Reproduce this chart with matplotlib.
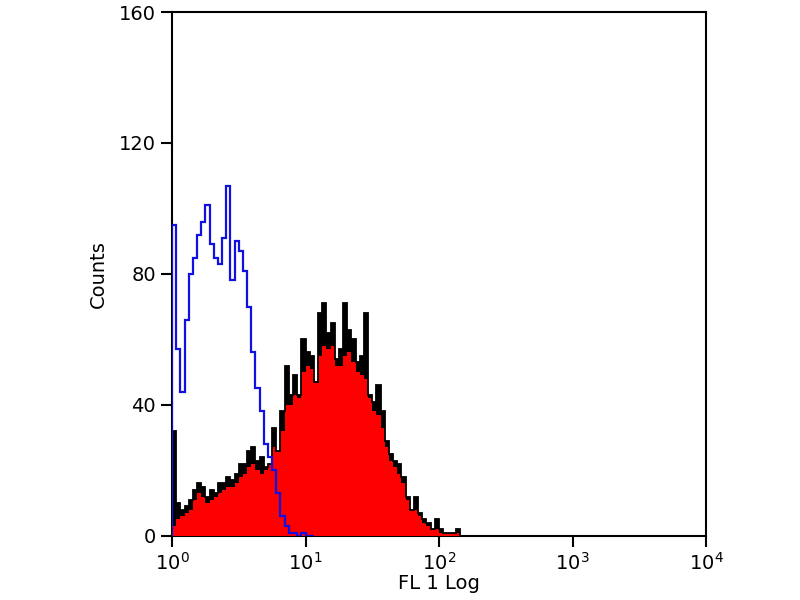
import numpy as np
import matplotlib
matplotlib.use("Agg")
import matplotlib.pyplot as plt

# histogram channels: 128 channels over 4 decades, starting at 10^0
n_chan = 128
decades = 4

# blue (isotype control) counts, first channels
blue_counts = [95, 57, 44, 66, 80, 85, 92, 96, 101, 89, 85, 83, 91, 107, 78, 90,
               87, 81, 70, 56, 45, 38, 28, 24, 20, 13, 6, 3, 1, 1, 0, 1, 0, 0]

# red sample: raw outline (black) and filled part (red)
red_outline = [32, 10, 8, 9, 11, 14, 16, 15, 12, 14, 13, 16, 16, 18, 17, 19,
               22, 22, 26, 27, 23, 24, 21, 22, 33, 26, 38, 52, 43, 49, 43, 60,
               56, 55, 47, 68, 71, 62, 65, 54, 57, 71, 63, 60, 53, 55, 68, 43,
               41, 46, 38, 29, 25, 23, 22, 18, 12, 8, 12, 7, 5, 4, 2, 5,
               2, 1, 1, 1, 2, 0, 0]
red_fill = [3, 5, 6, 7, 8, 11, 13, 12, 10, 11, 12, 13, 14, 15, 15, 16,
            18, 19, 21, 22, 20, 19, 20, 22, 27, 26, 32, 40, 40, 43, 42, 50,
            52, 51, 47, 55, 58, 57, 58, 52, 52, 55, 56, 53, 50, 49, 48, 42,
            38, 37, 33, 27, 23, 21, 19, 16, 11, 8, 8, 6, 4, 3, 2, 2,
            1, 1, 1, 1, 1, 0, 0]

y_ticks = [0, 40, 80, 120, 160]
x_ticks = [1, 10, 100, 1000, 10000]
x_labels = ["$10^{0}$", "$10^{1}$", "$10^{2}$", "$10^{3}$", "$10^{4}$"]

def edges(n):
    return 10 ** (np.arange(n + 1) * decades / n_chan)

fig = plt.figure(figsize=(8, 6), dpi=100)
ax = fig.add_axes([0.215, 0.107, 0.6675, 0.873])

ax.stairs(red_outline, edges(len(red_outline)), fill=True, color="black", zorder=2)
ax.stairs(red_fill, edges(len(red_fill)), fill=True, color="#ff0000", zorder=3)
ax.stairs(red_outline, edges(len(red_outline)), color="black", lw=1.3, zorder=3.5)
ax.stairs(blue_counts, edges(len(blue_counts)), color="#1010e0", lw=1.6, zorder=4)

ax.set_xscale("log")
ax.set_xlim(1, 10000)
ax.set_ylim(0, 160)
ax.set_xticks(x_ticks)
ax.set_xticklabels(x_labels)
ax.minorticks_off()
ax.set_yticks(y_ticks)
ax.tick_params(axis="both", length=8, width=1.5, labelsize=14, direction="out")

for s in ax.spines.values():
    s.set_linewidth(1.5)

ax.set_xlabel("FL 1 Log", fontsize=14, labelpad=0)
ax.set_ylabel("Counts", fontsize=14, labelpad=8)

fig.savefig("out.png", dpi=100)
